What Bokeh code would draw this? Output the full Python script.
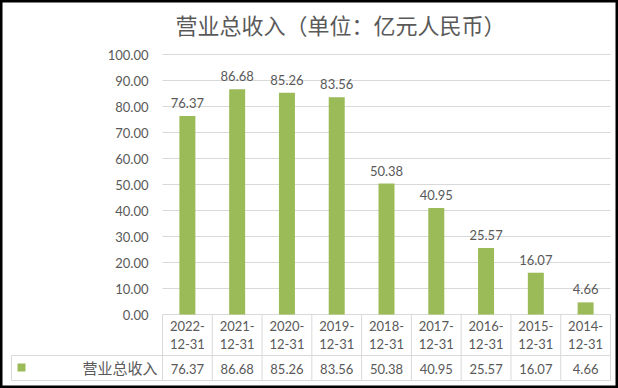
from bokeh.plotting import figure
from bokeh.models import Range1d
from bokeh.core.properties import value
from bokeh.embed import file_html
from bokeh.resources import INLINE

# ---- data ----
dates = ["2022-12-31", "2021-12-31", "2020-12-31", "2019-12-31", "2018-12-31",
         "2017-12-31", "2016-12-31", "2015-12-31", "2014-12-31"]
revenue = [76.37, 86.68, 85.26, 83.56, 50.38, 40.95, 25.57, 16.07, 4.66]
y_ticks = [0, 10, 20, 30, 40, 50, 60, 70, 80, 90, 100]
title_text = "营业总收入（单位：亿元人民币）"
series_name = "营业总收入"

# ---- layout constants (pixels on the canvas) ----
W, H = 618, 388
PLOT_LEFT, PLOT_RIGHT = 162, 610   # plot area / table columns
ZERO_PX = 314                      # pixel row of value 0
PX_PER_UNIT = 2.6                  # pixels per 1 value unit
GREEN = "#9BBB59"
TEXT = "#595959"
LINE = "#D9D9D9"
NUM_FONT = "Lato"
CJK_FONT = "Noto Sans CJK SC"

n = len(dates)
COL_W = (PLOT_RIGHT - PLOT_LEFT) / n


def X(px):
    return (px - PLOT_LEFT) / COL_W


def Y(px):
    return (ZERO_PX - px) / PX_PER_UNIT


p = figure(width=W, height=H, output_backend="svg", toolbar_location=None,
           x_range=Range1d(X(0), X(W)), y_range=Range1d(Y(H), Y(0)),
           x_axis_location=None, y_axis_location=None, min_border=0)
p.grid.visible = False
p.background_fill_color = "white"
p.border_fill_color = "white"
p.outline_line_color = "black"
p.outline_line_width = 4

num = dict(text_font=value(NUM_FONT), text_font_size="13px", text_color=TEXT)

# title
p.text(x=[X(340)], y=[Y(23)], text=[title_text], text_align="center", text_baseline="middle",
       text_font=value(CJK_FONT), text_font_size="22px", text_color=TEXT)

# value gridlines and tick labels
p.segment(x0=[X(PLOT_LEFT)] * len(y_ticks), x1=[X(PLOT_RIGHT)] * len(y_ticks),
          y0=y_ticks, y1=y_ticks, line_color=LINE, line_width=1)
p.text(x=[X(148)] * len(y_ticks), y=y_ticks, text=["%.2f" % t for t in y_ticks],
       text_align="right", text_baseline="middle", **num)

# bars and their labels
xs = [i + 0.5 for i in range(n)]
p.vbar(x=xs, top=revenue, bottom=0, width=16 / COL_W, fill_color=GREEN, line_color=None)
labels = ["%.2f" % v for v in revenue]
p.text(x=xs, y=revenue, text=labels, text_align="center", text_baseline="bottom",
       y_offset=-8, **num)

# data table under the chart
row_div, tbl_bottom = Y(355), Y(380)
p.segment(x0=[X(11), X(11)], x1=[n, n], y0=[row_div, tbl_bottom], y1=[row_div, tbl_bottom],
          line_color=LINE, line_width=1)
p.segment(x0=list(range(n + 1)), x1=list(range(n + 1)), y0=[0] * (n + 1),
          y1=[tbl_bottom] * (n + 1), line_color=LINE, line_width=1)
p.segment(x0=[X(11)], x1=[X(11)], y0=[row_div], y1=[tbl_bottom], line_color=LINE, line_width=1)
head1 = [d[:5] for d in dates]
head2 = [d[5:] for d in dates]
for txt, row in ((head1, 325), (head2, 343), (labels, 368)):
    p.text(x=xs, y=[Y(row)] * n, text=txt, text_align="center", text_baseline="middle", **num)

# legend cell of the data table
p.quad(left=[X(17)], right=[X(25)], top=[Y(363)], bottom=[Y(371)], fill_color=GREEN,
       line_color=None)
p.text(x=[X(157)], y=[Y(367)], text=[series_name], text_align="right", text_baseline="middle",
       text_font=value(CJK_FONT), text_font_size="15px", text_color=TEXT)

open("out.html", "w").write(file_html(p, INLINE))
